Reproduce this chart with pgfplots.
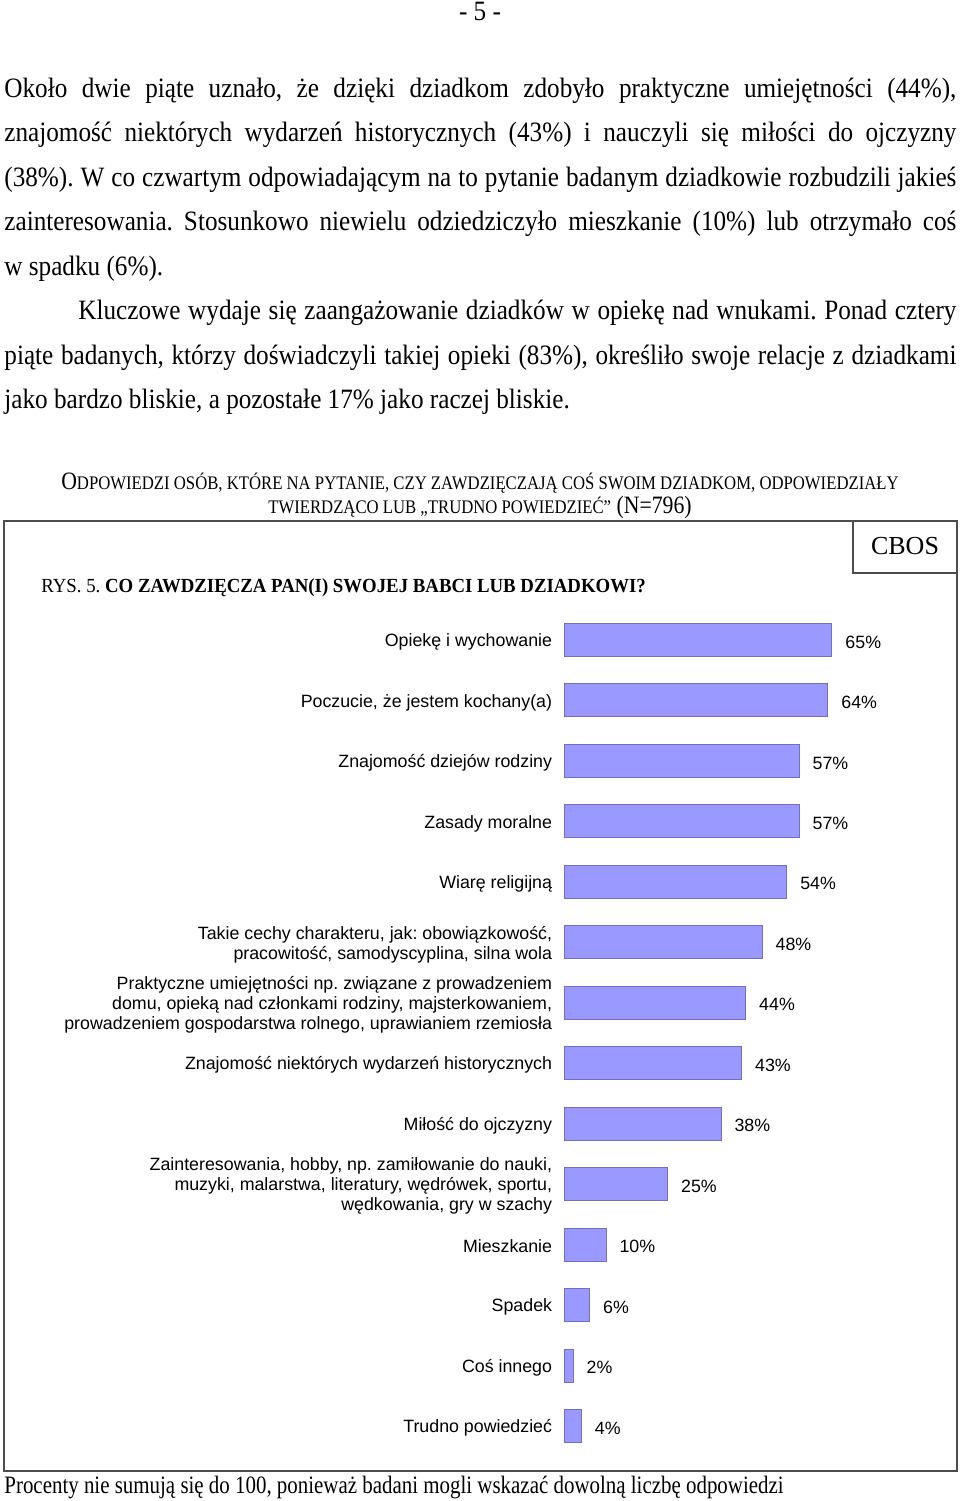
\documentclass[border=0pt]{standalone}
\usepackage{fontspec}
\setmainfont{Liberation Serif}
\newfontfamily\arial{Liberation Sans}
\usepackage{graphicx}
\usepackage{pgfplots}
\pgfplotsset{compat=1.18}
\usepackage{pgfplotstable}
\definecolor{barfill}{RGB}{153,153,255}
\definecolor{barline}{RGB}{112,112,190}
\frenchspacing

% i = pozycja od dołu, v = odsetek
\pgfplotstableread{
i v
0 4
1 2
2 6
3 10
4 25
5 38
6 43
7 44
8 48
9 54
10 57
11 57
12 64
13 65
}\wyniki

\newcommand{\body}{\fontsize{14}{16}\selectfont}
\newcommand{\hs}[2]{\scalebox{#1}[1]{#2}}
% justified line, width given after compression 0.9
\newcommand{\jl}[2][528.9pt]{\hs{0.9}{\makebox[#1][s]{#2}}}
\newcommand{\ssc}[1]{{\fontsize{9.6}{10}\selectfont #1}}
\newcommand{\chartfont}{\arial\fontsize{8.9}{10}\selectfont}

\begin{document}
\begin{tikzpicture}[x=0.5pt,y=-0.5pt]
\path[use as bounding box] (0,0) rectangle (960,1501);

\node[font=\body, anchor=base, inner sep=0pt] at (480,20) {\hs{0.9}{- 5 -}};

\begin{scope}[every node/.style={font=\body, anchor=base west, inner sep=0pt}]
\node at (4,97) {\jl{Około dwie piąte uznało, że dzięki dziadkom zdobyło praktyczne umiejętności (44\%),}};
\node at (4,141.5) {\jl{znajomość niektórych wydarzeń historycznych (43\%) i nauczyli się miłości do ojczyzny}};
\node at (4,186) {\jl{(38\%). W co czwartym odpowiadającym na to pytanie badanym dziadkowie rozbudzili jakieś}};
\node at (4,230.5) {\jl{zainteresowania. Stosunkowo niewielu odziedziczyło mieszkanie (10\%) lub otrzymało coś}};
\node at (4,275) {\hs{0.9}{w spadku (6\%).}};
\node at (78,319.5) {\jl[487.8pt]{Kluczowe wydaje się zaangażowanie dziadków w opiekę nad wnukami. Ponad cztery}};
\node at (4,364) {\jl{piąte badanych, którzy doświadczyli takiej opieki (83\%), określiło swoje relacje z dziadkami}};
\node at (4,408.5) {\hs{0.9}{jako bardzo bliskie, a pozostałe 17\% jako raczej bliskie.}};
\end{scope}

\node[anchor=base, inner sep=0pt, font=\fontsize{12.5}{14}\selectfont] at (480,489)
  {\hs{0.87}{O\ssc{DPOWIEDZI OSÓB, KTÓRE NA PYTANIE, CZY ZAWDZIĘCZAJĄ COŚ SWOIM DZIADKOM, ODPOWIEDZIAŁY}}};
\node[anchor=base, inner sep=0pt, font=\fontsize{12.5}{14}\selectfont] at (480,513)
  {\hs{0.87}{\ssc{TWIERDZĄCO LUB „TRUDNO POWIEDZIEĆ”} (N=796)}};

\draw[line width=0.7pt, black!70] (4,521) rectangle (957,1471);
\draw[line width=0.7pt, black!70] (853,521) rectangle (957,573);
\node[font=\fontsize{13}{14}\selectfont, inner sep=0pt] at (905,546) {CBOS};
\node[anchor=base west, inner sep=0pt, font=\fontsize{10}{12}\selectfont] at (41,592)
  {\hs{0.94}{RYS. 5. \textbf{CO ZAWDZIĘCZA PAN(I) SWOJEJ BABCI LUB DZIADKOWI?}}};

\begin{axis}[
  at={(282.5pt,-304.9pt)}, anchor=north west,
  scale only axis, width=164.3pt, height=423.2pt,
  xbar, bar width=16.5pt,
  xmin=0, xmax=80, ymin=-0.5, ymax=13.5,
  hide x axis, axis y line*=left, y axis line style={draw=none},
  ytick={0,...,13}, ytick style={draw=none},
  yticklabels={
    Trudno powiedzieć,
    Coś innego,
    Spadek,
    Mieszkanie,
    {Zainteresowania, hobby, np. zamiłowanie do nauki,\\muzyki, malarstwa, literatury, wędrówek, sportu,\\wędkowania, gry w szachy},
    Miłość do ojczyzny,
    Znajomość niektórych wydarzeń historycznych,
    {Praktyczne umiejętności np. związane z prowadzeniem\\domu, opieką nad członkami rodziny, majsterkowaniem,\\prowadzeniem gospodarstwa rolnego, uprawianiem rzemiosła},
    {Takie cechy charakteru, jak: obowiązkowość,\\pracowitość, samodyscyplina, silna wola},
    Wiarę religijną,
    Zasady moralne,
    Znajomość dziejów rodziny,
    {Poczucie, że jestem kochany(a)},
    Opiekę i wychowanie},
  yticklabel style={font=\chartfont, align=right, inner sep=0pt, xshift=-2pt, yshift=-1pt},
  point meta=x,
  /pgf/number format/assume math mode=true,
  nodes near coords={\pgfmathprintnumber{\pgfplotspointmeta}\%},
  nodes near coords style={font=\chartfont, inner sep=0pt, anchor=west, xshift=6.5pt, yshift=-1pt},
  clip=false,
]
\addplot[fill=barfill, draw=barline, line width=0.5pt] table[x=v, y=i] {\wyniki};
\end{axis}

\node[anchor=base west, inner sep=0pt, font=\fontsize{12.5}{14}\selectfont] at (4,1493)
  {\hs{0.837}{Procenty nie sumują się do 100, ponieważ badani mogli wskazać dowolną liczbę odpowiedzi}};
\end{tikzpicture}
\end{document}
